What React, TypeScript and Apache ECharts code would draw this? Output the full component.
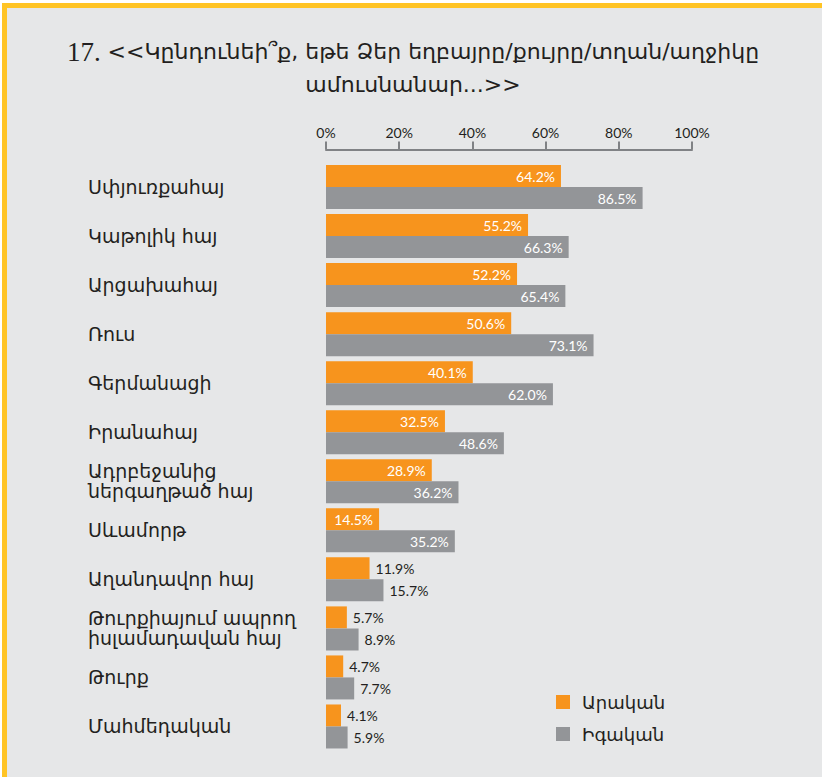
import React, { useEffect, useRef } from "react";
import * as echarts from "echarts";

const titleNumber = "17.";
const titleLines = [
  " <<Կընդունեի՞ք, եթե Ձեր եղբայրը/քույրը/տղան/աղջիկը",
  "ամուսնանար...>>",
];

const categories = [
  "Սփյուռքահայ",
  "Կաթոլիկ հայ",
  "Արցախահայ",
  "Ռուս",
  "Գերմանացի",
  "Իրանահայ",
  "Ադրբեջանից\nներգաղթած հայ",
  "Սևամորթ",
  "Աղանդավոր հայ",
  "Թուրքիայում ապրող\nիսլամադավան հայ",
  "Թուրք",
  "Մահմեդական",
];

const seriesNames = ["Արական", "Իգական"];
const maleValues = [64.2, 55.2, 52.2, 50.6, 40.1, 32.5, 28.9, 14.5, 11.9, 5.7, 4.7, 4.1];
const femaleValues = [86.5, 66.3, 65.4, 73.1, 62.0, 48.6, 36.2, 35.2, 15.7, 8.9, 7.7, 5.9];
const tickValues = [0, 20, 40, 60, 80, 100];

const ORANGE = "#F7941D";
const GRAY = "#939598";
const DARK = "#231F20";
const ARM_FONT = "DejaVu Sans";
const NUM_FONT = "Lato";

function buildData(values: number[], threshold: number) {
  return values.map((v) =>
    v >= threshold
      ? { value: v }
      : {
          value: v,
          label: { position: "right", color: DARK, distance: 6 },
        }
  );
}

export default function App() {
  const ref = useRef<HTMLDivElement>(null);
  useEffect(() => {
    if (!ref.current) return;
    const chart = echarts.init(ref.current, undefined, { renderer: "svg" });
    const barLabel = {
      show: true,
      position: "insideRight",
      distance: 6,
      color: "#FFFFFF",
      fontSize: 14,
      fontFamily: NUM_FONT,
      formatter: (p: any) => Number(p.value).toFixed(1) + "%",
    };
    chart.setOption({
      animation: false,
      backgroundColor: "#E6E7E8",
      title: {
        text: "{n|" + titleNumber + "}{t|" + titleLines[0] + "}\n{t|" + titleLines[1] + "}",
        left: 408,
        textAlign: "center",
        top: 30,
        textStyle: {
          fontFamily: ARM_FONT,
          fontSize: 22,
          fontWeight: "normal",
          color: DARK,
          lineHeight: 33,
          rich: {
            n: { fontFamily: "Liberation Serif", fontSize: 27, color: DARK, lineHeight: 33 },
            t: { fontFamily: ARM_FONT, fontSize: 22, color: DARK, lineHeight: 33 },
          },
        },
      },
      graphic: [
        { type: "rect", shape: { x: 0, y: 0, width: 822, height: 3 }, style: { fill: "#FFFFFF" } },
        { type: "rect", shape: { x: 0, y: 0, width: 2, height: 777 }, style: { fill: "#FFFFFF" } },
        { type: "rect", shape: { x: 2, y: 3, width: 820, height: 5 }, style: { fill: "#FFC425" } },
        { type: "rect", shape: { x: 2, y: 3, width: 5, height: 774 }, style: { fill: "#FFC425" } },
      ],
      legend: {
        data: seriesNames,
        orient: "vertical",
        left: 556,
        top: 693,
        padding: 0,
        icon: "rect",
        itemWidth: 14,
        itemHeight: 14,
        itemGap: 14,
        textStyle: { fontFamily: ARM_FONT, fontSize: 18, color: DARK, padding: [0, 0, 0, 7] },
      },
      grid: { left: 326, width: 366, top: 162.5, height: 588.5 },
      xAxis: {
        type: "value",
        position: "top",
        min: tickValues[0],
        max: tickValues[tickValues.length - 1],
        interval: 20,
        offset: 13,
        axisLine: { show: true, lineStyle: { color: "#808285", width: 2 } },
        axisTick: { show: true, length: 8, lineStyle: { color: "#808285", width: 2 } },
        axisLabel: {
          formatter: "{value}%",
          margin: 10,
          fontSize: 14,
          fontFamily: NUM_FONT,
          color: DARK,
        },
        splitLine: { show: false },
      },
      yAxis: {
        type: "category",
        inverse: true,
        data: categories,
        axisLine: { show: false },
        axisTick: { show: false },
        axisLabel: {
          align: "left",
          margin: 238,
          fontSize: 19,
          lineHeight: 20,
          fontFamily: ARM_FONT,
          color: DARK,
        },
      },
      series: [
        {
          name: seriesNames[0],
          type: "bar",
          barWidth: 22,
          barGap: "0%",
          itemStyle: { color: ORANGE },
          label: barLabel,
          data: buildData(maleValues, 14),
        },
        {
          name: seriesNames[1],
          type: "bar",
          barWidth: 22,
          barGap: "0%",
          itemStyle: { color: GRAY },
          label: barLabel,
          data: buildData(femaleValues, 20),
        },
      ],
    });
    return () => chart.dispose();
  }, []);
  return (
    <div
      ref={ref}
      style={{ position: "fixed", left: 0, top: 0, width: 822, height: 777 }}
    />
  );
}
